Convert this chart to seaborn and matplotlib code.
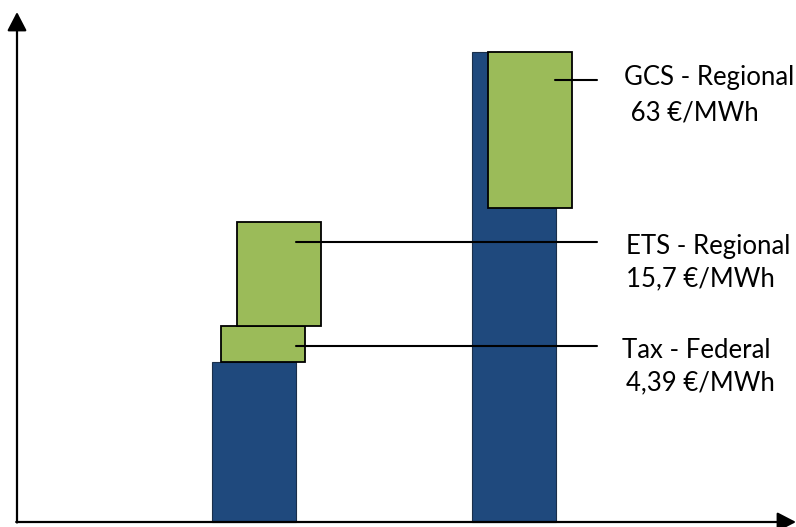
import matplotlib
matplotlib.use("Agg")
import matplotlib.pyplot as plt
import seaborn as sns
import pandas as pd

# ---- data (schematic units) ----
scenarios = ["Federal", "Regional"]
base_cost = [16.0, 47.0]                       # blue bars
charge_names = ["Tax - Federal", "ETS - Regional", "GCS - Regional"]
charge_values = ["4,39 €/MWh", "15,7 €/MWh", " 63 €/MWh"]
charge_bottom = [16.0, 19.6, 31.4]
charge_height = [3.6, 10.4, 15.6]

sns.set_theme(style="white")
plt.rcParams["font.family"] = ["Lato", "DejaVu Sans"]

fig = plt.figure(figsize=(7.96, 5.27), dpi=100)
ax = fig.add_axes([0, 0, 1, 1])

# layout (pixel-like x positions)
bar_x = [254, 514]
box_x = [263, 279, 530]
blue = "#1F497D"
green = "#9BBB59"

df = pd.DataFrame({"x": bar_x, "cost": base_cost, "scenario": scenarios})
sns.barplot(data=df, x="x", y="cost", native_scale=True, width=84 / 260,
            color=blue, saturation=1, edgecolor="#1a2f4a", linewidth=0.8, ax=ax)

ax.bar(box_x, charge_height, bottom=charge_bottom, width=84,
       color=green, edgecolor="black", linewidth=1.3, zorder=3)

ax.set_xlim(0, 796)
ax.set_ylim(-0.5, 52.2)
ax.axis("off")

# axes arrows
arrow_style = "-|>,head_length=0.52,head_width=0.27"
ax.annotate("", xy=(17, 51.0), xytext=(17, -0.05), annotation_clip=False,
            arrowprops=dict(arrowstyle=arrow_style, color="black", lw=1.6,
                            mutation_scale=22, shrinkA=0, shrinkB=0))
ax.annotate("", xy=(796, 0), xytext=(16.2, 0), annotation_clip=False,
            arrowprops=dict(arrowstyle=arrow_style, color="black", lw=1.6,
                            mutation_scale=22, shrinkA=0, shrinkB=0))

# leader lines
leader_y = [17.6, 28.0, 44.2]
leader_x0 = [296, 296, 555]
for y0, x0 in zip(leader_y, leader_x0):
    ax.plot([x0, 597], [y0, y0], color="black", lw=1.5, zorder=4)

# labels
text_y1 = [16.4, 26.8, 43.7]
text_y2 = [13.2, 23.6, 40.2]
text_x = [622, 626, 624]
for name, val, x, y1, y2 in zip(charge_names, charge_values, text_x, text_y1, text_y2):
    ax.text(x, y1, name, fontsize=18.5, va="baseline", ha="left", color="black")
    ax.text(626 if x != 624 else 624, y2, val, fontsize=18.5, va="baseline",
            ha="left", color="black")

fig.savefig("out.png", dpi=100)
